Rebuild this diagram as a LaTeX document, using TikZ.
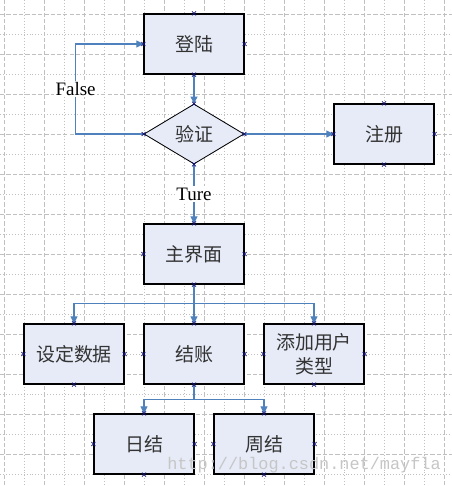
\documentclass[tikz,border=0pt]{standalone}
\usepackage{fontspec}
\usetikzlibrary{shapes.geometric,arrows.meta}
\newfontfamily\cjk{Noto Sans CJK SC}
\newfontfamily\latinserif{Liberation Serif}
\newfontfamily\wmfont{Liberation Mono}
\definecolor{boxfill}{RGB}{230,235,247}
\definecolor{linkblue}{RGB}{79,129,189}
\definecolor{markblue}{RGB}{20,20,120}
\definecolor{gridgray}{RGB}{192,192,192}

\begin{document}
\begin{tikzpicture}[x=0.025cm,y=-0.025cm,
  every node/.style={font=\cjk\fontsize{13.5}{17}\selectfont,text=black!80},
  box/.style={draw=black,line width=0.8pt,fill=boxfill,minimum width=2.5cm,minimum height=1.5cm,inner sep=1pt},
  check/.style={diamond,draw=black,line width=0.6pt,fill=boxfill,minimum width=2.5cm,minimum height=1.5cm,aspect=1.667,inner sep=1pt},
  link/.style={draw=linkblue,line width=0.8pt,-{Triangle[length=5pt,width=5pt]}},
  tag/.style={fill=white,inner sep=1pt,font=\latinserif\fontsize{13.5}{16}\selectfont,text=black},
  xmark/.style={draw=markblue,line width=0.5pt},
  major/.style={draw=gridgray,line width=0.6pt,dash pattern=on 3pt off 1.5pt},
  minor/.style={draw=gridgray,line width=0.6pt,dash pattern=on 0.7pt off 1.4pt}]
\fill[white] (0,0) rectangle (452,486);
\useasboundingbox (0,0) rectangle (452,486);
% grid
\foreach \x in {4,44,...,444} \draw[major] (\x,0) -- (\x,486);
\foreach \x in {24,64,...,424} \draw[minor] (\x,0) -- (\x,486);
\foreach \y in {14,54,...,454} \draw[major] (0,\y) -- (452,\y);
\foreach \y in {34,74,...,474} \draw[minor] (0,\y) -- (452,\y);
% steps
\node[box] (login) at (194,44) {登陆};
\node[check] (verify) at (194,134) {验证};
\node[box] (register) at (384,134) {注册};
\node[box] (mainui) at (194,254) {主界面};
\node[box] (setdata) at (74,354) {设定数据};
\node[box] (checkout) at (194,354) {结账};
\node[box,align=center] (addtype) at (314,354) {添加用户\\类型};
\node[box] (daily) at (144,444) {日结};
\node[box] (weekly) at (264,444) {周结};
% links
\draw[link] (login) -- (verify);
\draw[link] (verify) -- (register);
\draw[link] (verify.west) -- ++(-68,0) |- (login.west) node[pos=0.25,tag] (nolabel) {False};
\draw[link] (verify) -- (mainui) node[midway,tag] (yeslabel) {Ture};
\draw[link] (mainui.south) -- ++(0,19) -| (setdata.north);
\draw[link] (mainui) -- (checkout);
\draw[link] (mainui.south) -- ++(0,19) -| (addtype.north);
\draw[link] (checkout.south) -- ++(0,15) -| (daily.north);
\draw[link] (checkout.south) -- ++(0,15) -| (weekly.north);
% connection points
\foreach \n in {login,verify,register,mainui,setdata,checkout,addtype,daily,weekly}
  \foreach \a in {north,south,east,west}
    \draw[xmark] (\n.\a) +(-2,-2) -- +(2,2) +(-2,2) -- +(2,-2);
\node[font=\wmfont\fontsize{12}{14}\selectfont,text=gray!45] (mark) at (304,465) {http://blog.csdn.net/mayfla};
\end{tikzpicture}
\end{document}
